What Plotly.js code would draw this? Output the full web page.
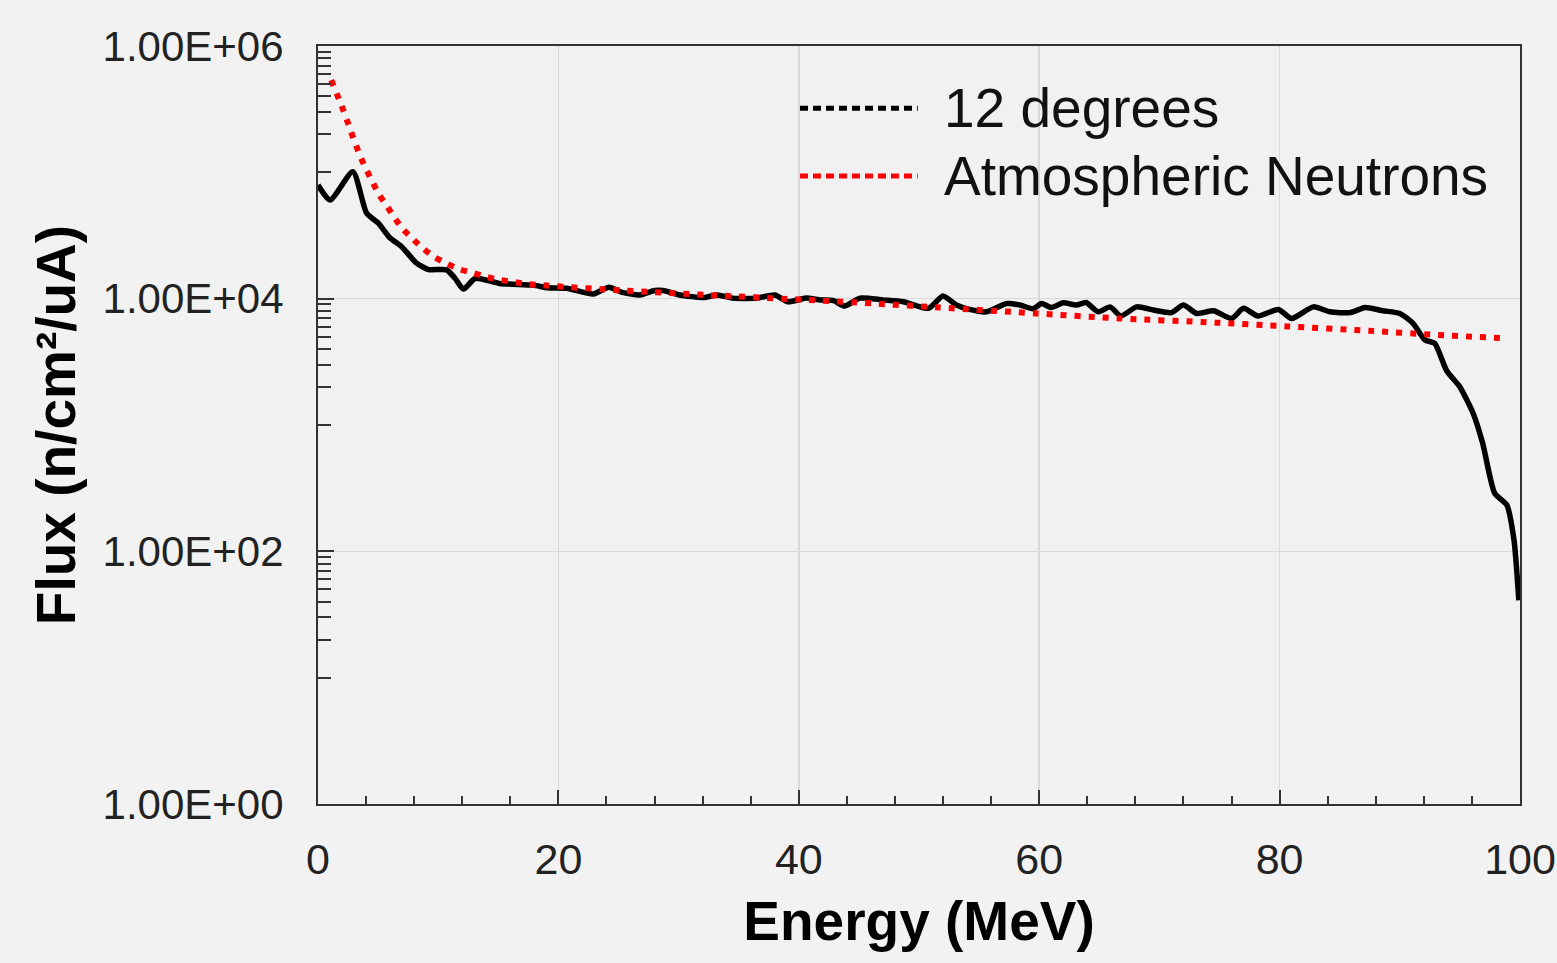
<!DOCTYPE html>
<html>
<head>
<meta charset="utf-8">
<script src="https://cdn.plot.ly/plotly-3.0.1.min.js"></script>
<style>
  html, body { margin: 0; padding: 0; background: #f2f2f2; }
  #chart { width: 1557px; height: 963px; }
</style>
</head>
<body>
<div id="chart"></div>
<script>
// ---- Data ----
const energy12 = [0, 1.0, 2.9, 4.05, 5.0, 6.0, 6.96, 8.2, 9.2, 10.7, 11.4, 12.1, 13.1, 15.1, 17.9, 19.1,
  20.7, 22.9, 24.2, 25.3, 26.8, 28.0, 28.7, 30.1, 32.1, 33.2, 34.5, 36.5, 38.0, 39.1, 40.6, 41.8, 42.9,
  43.8, 45.1, 47.0, 48.7, 50.8, 52.0, 53.1, 54.2, 55.6, 57.3, 58.4, 59.5, 60.2, 61.0, 62.0, 63.1, 63.9,
  64.9, 65.9, 66.8, 68.1, 69.5, 71.0, 72.0, 73.1, 74.5, 76.0, 77.0, 78.2, 79.9, 81.0, 82.8, 84.2, 85.9,
  87.1, 88.6, 90.0, 91.1, 92.1, 92.9, 93.9, 95.0, 96.1, 96.9, 97.9, 98.9, 99.5, 99.9];
const flux12 = [79400, 60300, 101000, 47400, 39800, 30200, 25800, 19100, 17000, 16900, 14500, 11900, 14500, 13200, 12800, 12200,
  12100, 10900, 12300, 11200, 10700, 11600, 11600, 10700, 10200, 10700, 10100, 10100, 10700, 9460, 10100, 9770, 9640,
  8750, 10100, 9770, 9460, 8390, 10500, 8910, 8220, 7870, 9160, 8910, 8320, 9160, 8510, 9270, 8910, 9330,
  7870, 8610, 7290, 8610, 8130, 7760, 8910, 7640, 8020, 6970, 8390, 7290, 8220, 6970, 8610, 7870, 7760,
  8510, 8020, 7640, 6380, 4710, 4430, 2690, 2000, 1240, 715, 287, 233, 123, 41];

const energyAtm = [1.1, 1.97, 2.38, 2.75, 3.16, 3.58, 4.05, 4.6, 5.1, 5.77, 6.4, 7.1, 7.93, 8.76, 9.68, 10.7,
  11.76, 12.87, 13.98, 15.14, 17.36, 18.5, 25.4, 32.4, 40.4, 46.2, 51.7, 59.8, 66.7, 74.7, 80.6, 87.5, 93.2, 99.0];
const fluxAtm = [537000, 335000, 263000, 209000, 164000, 130000, 104000, 81700, 66100, 53500, 43200, 35300, 29400, 24900, 21400, 19000,
  17100, 16000, 14900, 14100, 13100, 12800, 11600, 10700, 9800, 9160, 8510, 7640, 6970, 6460, 6030, 5560, 5160, 4850];

const seriesNames = ["12 degrees", "Atmospheric Neutrons"];
const yTickVals = [1, 100, 10000, 1000000];
const yTickText = ["1.00E+00", "1.00E+02", "1.00E+04", "1.00E+06"];
const xTickVals = [0, 20, 40, 60, 80, 100];

// minor tick positions for the log axis (1..9 x 10^odd)
const yMinor = [];
[1, 3, 5].forEach(p => { for (let k = 1; k <= 9; k++) yMinor.push(k * Math.pow(10, p)); });

const FONT = "Liberation Sans, Arial, sans-serif";

const traces = [
  {
    x: energy12, y: flux12, type: "scatter", mode: "lines", name: seriesNames[0],
    line: { color: "#000000", width: 5.5, shape: "spline", smoothing: 0.6 },
    showlegend: false, hoverinfo: "x+y+name"
  },
  {
    x: energyAtm, y: fluxAtm, type: "scatter", mode: "lines", name: seriesNames[1],
    line: { color: "#ff0000", width: 6, dash: "6px,8px", shape: "spline", smoothing: 0.8 },
    showlegend: false, hoverinfo: "x+y+name"
  }
];

// custom legend (dotted samples like the reference)
const legY = [0.918, 0.8285];
const legColors = ["#000000", "#ff0000"];
const shapes = legY.map((yy, i) => ({
  type: "line", xref: "paper", yref: "paper", x0: 0.401, x1: 0.499, y0: yy, y1: yy,
  line: { color: legColors[i], width: 5, dash: "8px,5px" }
}));
const annotations = legY.map((yy, i) => ({
  xref: "paper", yref: "paper", x: 0.5195, y: yy, xanchor: "left", yanchor: "middle",
  text: seriesNames[i], showarrow: false,
  font: { family: FONT, size: 55, color: "#111111" }
}));

const layout = {
  width: 1557, height: 963,
  paper_bgcolor: "#f2f2f2",
  plot_bgcolor: "#f1f1f1",
  margin: { l: 318, r: 37, t: 46, b: 159 },
  showlegend: false,
  xaxis: {
    range: [0, 100],
    tickmode: "array", tickvals: xTickVals,
    ticks: "inside", ticklen: 14, tickwidth: 2, tickcolor: "#333333",
    minor: { tickmode: "linear", tick0: 0, dtick: 4, ticks: "inside", ticklen: 8, tickwidth: 2, tickcolor: "#333333", showgrid: false },
    showgrid: true, gridcolor: "#d9d9d9", gridwidth: 1.5,
    showline: true, linecolor: "#333333", linewidth: 2, mirror: true,
    zeroline: false,
    tickfont: { family: FONT, size: 43, color: "#222222" },
    ticklabelstandoff: 16,
    title: { text: "Energy (MeV)", font: { family: FONT, size: 55, color: "#000000", weight: 700 }, standoff: 20 }
  },
  yaxis: {
    type: "log", range: [0, 6],
    tickmode: "array", tickvals: yTickVals, ticktext: yTickText,
    ticks: "inside", ticklen: 16, tickwidth: 2, tickcolor: "#333333",
    minor: { tickmode: "array", tickvals: yMinor, ticks: "inside", ticklen: 13, tickwidth: 2, tickcolor: "#333333", showgrid: false },
    showgrid: true, gridcolor: "#d9d9d9", gridwidth: 1.5,
    showline: true, linecolor: "#333333", linewidth: 2, mirror: true,
    zeroline: false,
    tickfont: { family: FONT, size: 42, color: "#222222" },
    ticklabelstandoff: 24,
    title: { text: "Flux (n/cm²/uA)", font: { family: FONT, size: 55, color: "#000000", weight: 700 }, standoff: 9 }
  },
  shapes: shapes,
  annotations: annotations
};

Plotly.newPlot("chart", traces, layout, { displayModeBar: false, staticPlot: true });
</script>
</body>
</html>
